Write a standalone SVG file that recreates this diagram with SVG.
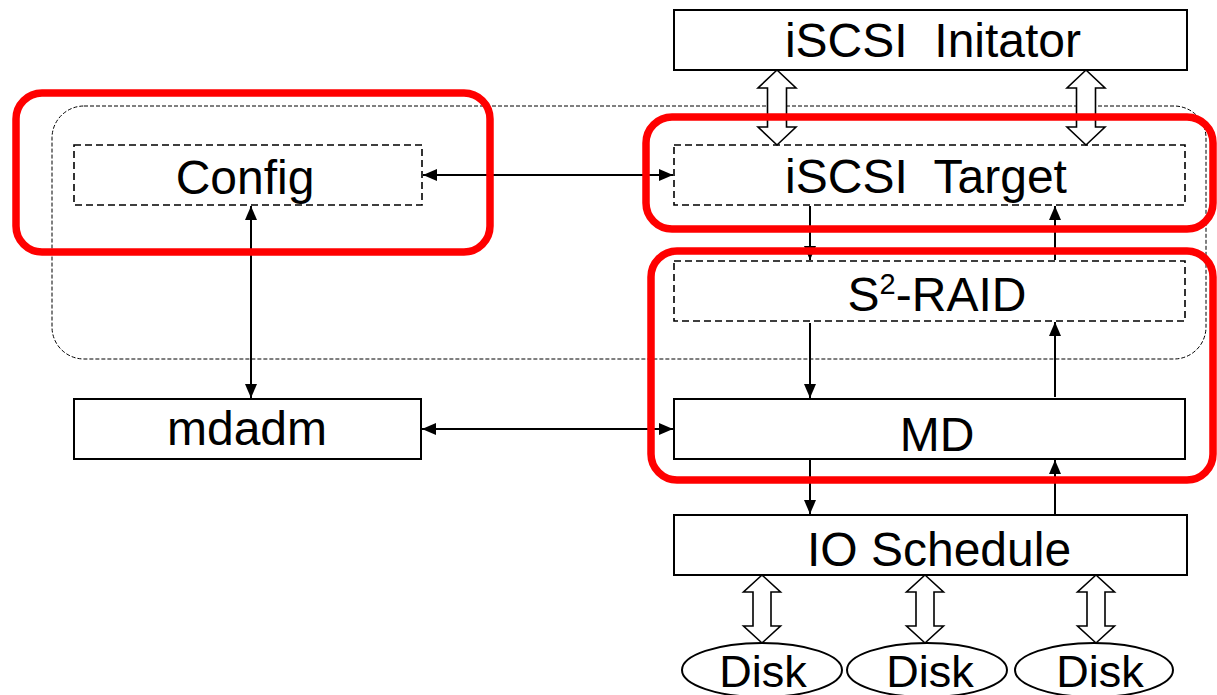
<svg xmlns="http://www.w3.org/2000/svg" width="1217" height="695" viewBox="0 0 1217 695">
  <defs>
    <marker id="ah" viewBox="0 0 14 12" refX="14" refY="6" markerWidth="14" markerHeight="12" markerUnits="userSpaceOnUse" orient="auto-start-reverse">
      <path d="M0,0 L14,6 L0,12 z" fill="#000"/>
    </marker>
    <!-- hollow double-headed arrow, centred on x=0, spanning y=0..len -->
    <path id="dbl75" d="M0,0 L19,18 L9.5,18 L9.5,57 L19,57 L0,75 L-19,57 L-9.5,57 L-9.5,18 L-19,18 z"/>
    <path id="dbl68" d="M0,0 L18.5,17 L9,17 L9,51 L18.5,51 L0,68 L-18.5,51 L-9,51 L-9,17 L-18.5,17 z"/>
  </defs>
  <style>
    .box { fill: #fff; stroke: #000; stroke-width: 2; }
    .dbox { fill: none; stroke: #000; stroke-width: 1.6; stroke-dasharray: 7 4; }
    .label { font-family: "Liberation Sans", Arial, sans-serif; font-size: 48px; fill: #000; text-anchor: middle; white-space: pre; }
    .disk { font-size: 45px; }
    .conn { stroke: #000; stroke-width: 2; fill: none; }
    .hollow { fill: #fff; stroke: #000; stroke-width: 1.6; }
    .hl { fill: none; stroke: #ff0000; stroke-width: 7.5; }
  </style>

  <rect width="1217" height="695" fill="#fff"/>

  <!-- user-space module boundary -->
  <rect x="52" y="106" width="1154" height="253" rx="32" fill="none" stroke="#000" stroke-width="1" stroke-dasharray="4 2"/>

  <g id="iscsi-initiator">
    <rect class="box" x="674" y="10" width="513" height="60"/>
    <text class="label" x="933" y="57" xml:space="preserve">iSCSI  Initator</text>
  </g>

  <g id="iscsi-target">
    <rect class="dbox" x="674" y="145" width="511" height="60"/>
    <text class="label" x="926" y="193" xml:space="preserve">iSCSI  Target</text>
  </g>

  <g id="config">
    <rect class="dbox" x="74" y="145" width="348" height="60"/>
    <text class="label" x="245" y="194">Config</text>
  </g>

  <g id="s2raid">
    <rect class="dbox" x="674" y="261" width="511" height="60"/>
    <text class="label" x="937" y="311">S<tspan font-size="29" dy="-17">2</tspan><tspan dy="17">-RAID</tspan></text>
  </g>

  <g id="mdadm">
    <rect class="box" x="74" y="399" width="347" height="60"/>
    <text class="label" x="247" y="445">mdadm</text>
  </g>

  <g id="md">
    <rect class="box" x="674" y="399" width="511" height="60"/>
    <text class="label" x="937" y="451">MD</text>
  </g>

  <g id="io-schedule">
    <rect class="box" x="674" y="515" width="513" height="60"/>
    <text class="label" x="939" y="566">IO Schedule</text>
  </g>

  <g id="disk-1">
    <ellipse class="box" cx="762" cy="670" rx="80" ry="27" stroke-width="1.6"/>
    <text class="label disk" x="763" y="687">Disk</text>
  </g>
  <g id="disk-2">
    <ellipse class="box" cx="927" cy="670" rx="80" ry="27" stroke-width="1.6"/>
    <text class="label disk" x="930" y="687">Disk</text>
  </g>
  <g id="disk-3">
    <ellipse class="box" cx="1094" cy="670" rx="79" ry="27" stroke-width="1.6"/>
    <text class="label disk" x="1100" y="687">Disk</text>
  </g>

  <g id="connectors">
    <!-- initiator <-> target -->
    <use href="#dbl75" class="hollow" x="777" y="70"/>
    <use href="#dbl75" class="hollow" x="1086" y="70"/>
    <!-- io schedule <-> disks -->
    <use href="#dbl68" class="hollow" x="762" y="575"/>
    <use href="#dbl68" class="hollow" x="925" y="575"/>
    <use href="#dbl68" class="hollow" x="1096" y="575"/>

    <!-- config <-> target -->
    <line class="conn" x1="423" y1="175" x2="673" y2="175" marker-start="url(#ah)" marker-end="url(#ah)"/>
    <!-- config <-> mdadm -->
    <line class="conn" x1="251" y1="206" x2="251" y2="398" marker-start="url(#ah)" marker-end="url(#ah)"/>
    <!-- mdadm <-> md -->
    <line class="conn" x1="422" y1="429" x2="673" y2="429" marker-start="url(#ah)" marker-end="url(#ah)"/>

    <!-- downward request path -->
    <line class="conn" x1="810" y1="206" x2="810" y2="260" marker-end="url(#ah)"/>
    <line class="conn" x1="810" y1="323" x2="810" y2="398" marker-end="url(#ah)"/>
    <line class="conn" x1="810" y1="460" x2="810" y2="514" marker-end="url(#ah)"/>
    <!-- upward completion path -->
    <line class="conn" x1="1055" y1="260" x2="1055" y2="206" marker-end="url(#ah)"/>
    <line class="conn" x1="1055" y1="397" x2="1055" y2="322" marker-end="url(#ah)"/>
    <line class="conn" x1="1055" y1="514" x2="1055" y2="460" marker-end="url(#ah)"/>
  </g>

  <g id="highlights">
    <rect class="hl" x="16" y="93" width="474" height="159" rx="26"/>
    <rect class="hl" x="646" y="117" width="567" height="112" rx="26"/>
    <rect class="hl" x="651" y="251" width="562" height="229" rx="26"/>
  </g>
</svg>
